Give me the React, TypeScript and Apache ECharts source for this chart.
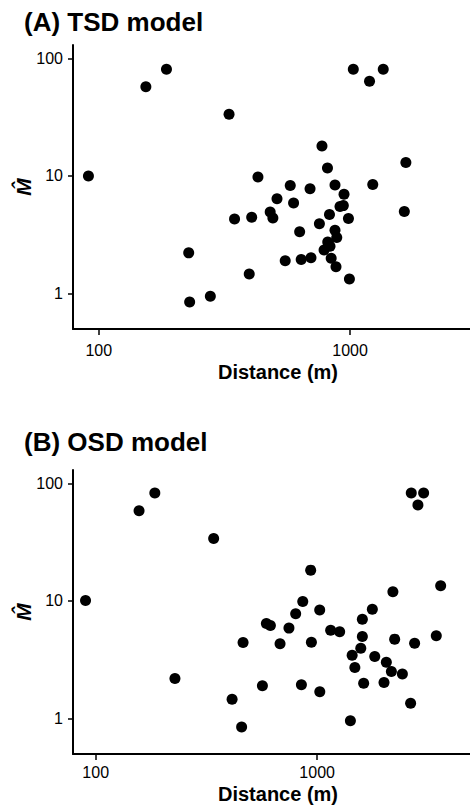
import React, { useEffect, useRef } from 'react';
import * as echarts from 'echarts';

const panelTitles = ['(A) TSD model', '(B) OSD model'];
const xAxisTitle = 'Distance (m)';
const yAxisTitle = 'M\u0302';
const xTickValues = [100, 1000];
const yTickValues = [1, 10, 100];

const tsdDistance = [91, 154, 186, 330, 1030, 1195, 1355, 773, 1667, 813, 430, 578, 693, 871, 946, 1231, 512, 596, 912, 940, 1644, 347, 406, 481, 493, 828, 985, 755, 630, 871, 885, 815, 832, 788, 228, 552, 639, 699, 841, 879, 397, 994, 230, 278];
const tsdM = [10, 57.5, 81, 33.5, 81, 64, 81, 18, 13, 11.7, 9.8, 8.3, 7.8, 8.4, 7.0, 8.45, 6.4, 5.9, 5.5, 5.6, 5.0, 4.3, 4.45, 4.95, 4.4, 4.7, 4.35, 3.93, 3.36, 3.46, 3.0, 2.74, 2.53, 2.35, 2.22, 1.9, 1.95, 2.02, 2.0, 1.69, 1.47, 1.33, 0.85, 0.95];

const osdDistance = [157, 185, 341, 935, 2661, 3026, 2851, 2198, 3612, 90, 861, 1027, 800, 1775, 1600, 590, 615, 746, 1151, 1264, 1600, 3451, 463, 680, 942, 2239, 2755, 1574, 1439, 1820, 2053, 1480, 2164, 2426, 228, 566, 849, 1622, 2004, 1028, 413, 2643, 1413, 456];
const osdM = [58.6, 82.8, 34, 18.3, 82.8, 82.8, 65.5, 12, 13.5, 10.1, 9.9, 8.4, 7.8, 8.5, 7.0, 6.44, 6.2, 5.88, 5.65, 5.47, 5.0, 5.06, 4.43, 4.33, 4.45, 4.74, 4.37, 3.97, 3.46, 3.37, 3.02, 2.72, 2.51, 2.39, 2.19, 1.9, 1.94, 2.0, 2.03, 1.69, 1.46, 1.35, 0.96, 0.85];

const FONT = '"Liberation Sans", Arial, Helvetica, sans-serif';

export default function App() {
  const ref = useRef<HTMLDivElement>(null);
  useEffect(() => {
    if (!ref.current) return;
    const chart = echarts.init(ref.current, null, { renderer: 'svg' });

    const makeX = (gridIndex: number, max: number, nameGap: number, labelMargin: number) => ({
      type: 'log',
      logBase: 10,
      gridIndex,
      min: 79,
      max,
      position: 'bottom',
      name: xAxisTitle,
      nameLocation: 'middle',
      nameGap,
      nameMoveOverlap: false,
      nameTextStyle: { fontFamily: FONT, fontSize: 20, fontWeight: 'bold', color: '#000', padding: [0, 0, 0, 13] },
      axisLine: { show: true, onZero: false, lineStyle: { color: '#000', width: 2 } },
      axisTick: { show: true, customValues: xTickValues, length: 6, lineStyle: { color: '#000', width: 1.5 } },
      axisLabel: {
        show: true,
        customValues: xTickValues,
        margin: labelMargin,
        fontSize: 16,
        color: '#000',
        fontFamily: FONT,
        formatter: (v: number) => String(Math.round(v)),
      },
      splitLine: { show: false },
    });
    const makeY = (gridIndex: number) => ({
      type: 'log',
      logBase: 10,
      gridIndex,
      min: 0.5,
      max: 130,
      position: 'left',
      name: yAxisTitle,
      nameLocation: 'middle',
      nameRotate: 90,
      nameGap: 39,
      nameMoveOverlap: false,
      nameTextStyle: { fontFamily: FONT, fontSize: 21, fontWeight: 'bold', fontStyle: 'italic', color: '#000' },
      axisLine: { show: true, onZero: false, lineStyle: { color: '#000', width: 2 } },
      axisTick: { show: true, customValues: yTickValues, length: 5, lineStyle: { color: '#000', width: 1.5 } },
      axisLabel: {
        show: true,
        customValues: yTickValues,
        margin: 10,
        fontSize: 16,
        color: '#000',
        fontFamily: FONT,
        formatter: (v: number) => String(Math.round(v)),
      },
      splitLine: { show: false },
    });

    const option = {
      animation: false,
      backgroundColor: '#fff',
      grid: [
        { left: 73, top: 45, width: 397, height: 284, containLabel: false, outerBoundsMode: 'none' },
        { left: 73, top: 470, width: 397, height: 284, containLabel: false, outerBoundsMode: 'none' },
      ],
      xAxis: [makeX(0, 3000, 33, 13), makeX(1, 4900, 30, 10)],
      yAxis: [makeY(0), makeY(1)],
      graphic: [
        {
          type: 'text',
          x: 24,
          y: 22,
          style: { text: panelTitles[0], fill: '#000', font: `bold 26px ${FONT}`, textAlign: 'left', textVerticalAlign: 'middle' },
        },
        {
          type: 'text',
          x: 24,
          y: 442,
          style: { text: panelTitles[1], fill: '#000', font: `bold 26px ${FONT}`, textAlign: 'left', textVerticalAlign: 'middle' },
        },
      ],
      series: [
        {
          type: 'scatter',
          name: 'TSD model',
          xAxisIndex: 0,
          yAxisIndex: 0,
          symbol: 'circle',
          symbolSize: 11,
          itemStyle: { color: '#000', opacity: 1 },
          data: tsdDistance.map((d, i) => [d, tsdM[i]]),
        },
        {
          type: 'scatter',
          name: 'OSD model',
          xAxisIndex: 1,
          yAxisIndex: 1,
          symbol: 'circle',
          symbolSize: 11,
          itemStyle: { color: '#000', opacity: 1 },
          data: osdDistance.map((d, i) => [d, osdM[i]]),
        },
      ],
    };
    chart.setOption(option as any);
    return () => chart.dispose();
  }, []);

  return (
    <div
      ref={ref}
      style={{ position: 'fixed', left: 0, top: 0, width: 470, height: 805, background: '#fff' }}
    />
  );
}
